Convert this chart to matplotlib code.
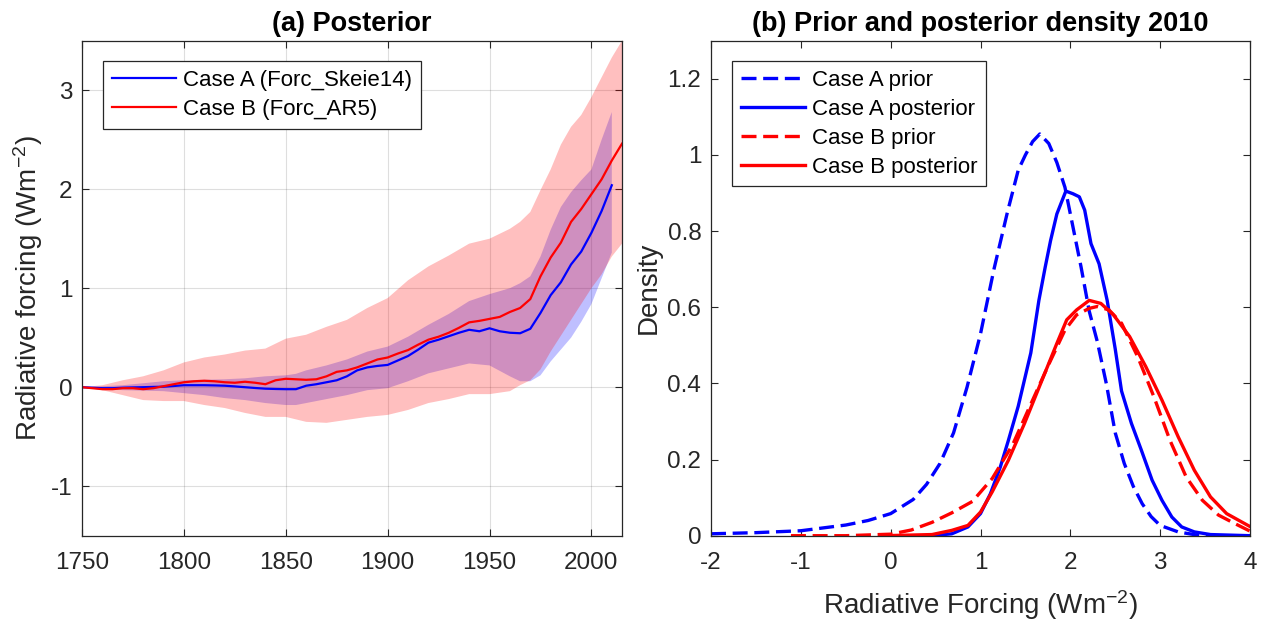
import numpy as np
import matplotlib
matplotlib.use('Agg')
import matplotlib.pyplot as plt
from matplotlib.ticker import FuncFormatter

plt.rcParams['font.family'] = ['Liberation Sans', 'DejaVu Sans']
plt.rcParams['mathtext.fontset'] = 'custom'
plt.rcParams['mathtext.rm'] = 'Liberation Sans'
plt.rcParams['mathtext.it'] = 'Liberation Sans'
plt.rcParams['mathtext.bf'] = 'Liberation Sans:bold'
plt.rcParams['mathtext.default'] = 'regular'
plt.rcParams['axes.unicode_minus'] = False

# ---------------- Panel (a): posterior forcing time series ----------------
years_B = [1750, 1755, 1760, 1765, 1770, 1775, 1780, 1785, 1790, 1795, 1800, 1805, 1810, 1815,
           1820, 1825, 1830, 1835, 1840, 1845, 1850, 1855, 1860, 1865, 1870, 1875, 1880, 1885,
           1890, 1895, 1900, 1905, 1910, 1915, 1920, 1925, 1930, 1935, 1940, 1945, 1950, 1955,
           1960, 1965, 1970, 1975, 1980, 1985, 1990, 1995, 2000, 2005, 2010, 2015]
caseB_median = [0.0, -0.01, -0.02, -0.02, -0.01, -0.01, -0.02, -0.01, 0.01, 0.03, 0.05, 0.06, 0.065, 0.06,
                0.05, 0.045, 0.055, 0.045, 0.03, 0.07, 0.085, 0.08, 0.075, 0.08, 0.11, 0.155, 0.17, 0.20,
                0.24, 0.28, 0.30, 0.34, 0.375, 0.43, 0.48, 0.51, 0.55, 0.60, 0.655, 0.67, 0.69, 0.71,
                0.76, 0.80, 0.89, 1.12, 1.31, 1.46, 1.67, 1.80, 1.95, 2.10, 2.29, 2.46]

years_A = [1750, 1755, 1760, 1765, 1770, 1775, 1780, 1785, 1790, 1795, 1800, 1805, 1810, 1815,
           1820, 1825, 1830, 1835, 1840, 1845, 1850, 1855, 1860, 1865, 1870, 1875, 1880, 1885,
           1890, 1895, 1900, 1905, 1910, 1915, 1920, 1925, 1930, 1935, 1940, 1945, 1950, 1955,
           1960, 1965, 1970, 1975, 1980, 1985, 1990, 1995, 2000, 2005, 2010]
caseA_median = [0.0, -0.005, -0.01, -0.01, -0.005, -0.002, 0.0, 0.003, 0.005, 0.012, 0.02, 0.02, 0.02, 0.018,
                0.015, 0.008, 0.0, -0.008, -0.015, -0.018, -0.02, -0.02, 0.015, 0.03, 0.05, 0.07, 0.11, 0.17,
                0.20, 0.215, 0.225, 0.27, 0.315, 0.38, 0.45, 0.48, 0.515, 0.55, 0.58, 0.565, 0.595, 0.565,
                0.55, 0.545, 0.59, 0.75, 0.93, 1.06, 1.24, 1.37, 1.56, 1.78, 2.04]

band_years_B = [1750, 1760, 1770, 1780, 1790, 1800, 1810, 1820, 1830, 1840, 1850, 1860, 1870, 1880,
                1890, 1900, 1910, 1920, 1930, 1940, 1950, 1960, 1965, 1970, 1975, 1980, 1985, 1990,
                1995, 2000, 2005, 2010, 2015]
caseB_upper = [0.0, 0.02, 0.07, 0.11, 0.17, 0.25, 0.30, 0.33, 0.37, 0.39, 0.49, 0.53, 0.61, 0.68,
               0.80, 0.90, 1.08, 1.22, 1.33, 1.45, 1.50, 1.60, 1.67, 1.77, 1.99, 2.20, 2.45, 2.63,
               2.75, 2.93, 3.13, 3.33, 3.50]
caseB_lower = [0.0, -0.03, -0.08, -0.13, -0.14, -0.14, -0.18, -0.21, -0.26, -0.30, -0.30, -0.35, -0.36, -0.33,
               -0.30, -0.28, -0.23, -0.16, -0.12, -0.07, -0.07, -0.04, 0.02, 0.07, 0.18, 0.36, 0.52, 0.68,
               0.84, 1.00, 1.14, 1.32, 1.45]

band_years_A = [1750, 1760, 1770, 1780, 1790, 1800, 1810, 1820, 1830, 1840, 1850, 1855, 1860, 1870,
                1880, 1890, 1900, 1910, 1920, 1930, 1940, 1950, 1960, 1965, 1970, 1975, 1980, 1985,
                1990, 1995, 2000, 2005, 2010]
caseA_upper = [0.0, 0.01, 0.02, 0.04, 0.06, 0.07, 0.075, 0.08, 0.09, 0.11, 0.12, 0.135, 0.17, 0.22,
               0.28, 0.36, 0.41, 0.51, 0.63, 0.74, 0.87, 0.94, 1.00, 1.05, 1.12, 1.32, 1.59, 1.82,
               1.97, 2.09, 2.20, 2.50, 2.78]
caseA_lower = [0.0, -0.015, -0.03, -0.035, -0.04, -0.06, -0.08, -0.11, -0.13, -0.16, -0.18, -0.18, -0.16, -0.12,
               -0.08, -0.03, -0.01, 0.06, 0.14, 0.19, 0.24, 0.22, 0.11, 0.06, 0.06, 0.12, 0.26, 0.38,
               0.50, 0.66, 0.84, 1.10, 1.36]

legend_a = ['Case A (Forc_Skeie14)', 'Case B (Forc_AR5)']
xticks_a = [1750, 1800, 1850, 1900, 1950, 2000]
yticks_a = [-1, 0, 1, 2, 3]

# ---------------- Panel (b): densities in 2010 ----------------
A_prior_x = [-2.0, -1.5, -1.0, -0.5, -0.25, 0.0, 0.25, 0.4, 0.55, 0.7, 0.85, 1.0, 1.15, 1.3, 1.42, 1.5,
             1.58, 1.66, 1.76, 1.85, 1.94, 2.03, 2.12, 2.21, 2.3, 2.4, 2.5, 2.6, 2.7, 2.8, 2.9, 3.0,
             3.2, 3.4, 3.6]
A_prior_y = [0.005, 0.008, 0.013, 0.028, 0.04, 0.058, 0.095, 0.135, 0.19, 0.27, 0.39, 0.53, 0.70, 0.85, 0.96, 1.0,
             1.035, 1.055, 1.03, 0.98, 0.915, 0.81, 0.705, 0.59, 0.51, 0.40, 0.27, 0.19, 0.13, 0.084, 0.05, 0.027,
             0.01, 0.002, 0.0]

A_post_x = [-0.08, 0.46, 0.68, 0.86, 1.0, 1.11, 1.22, 1.31, 1.42, 1.56, 1.65, 1.72, 1.78, 1.85, 1.95, 2.03,
            2.10, 2.16, 2.23, 2.32, 2.41, 2.50, 2.57, 2.68, 2.79, 2.91, 3.02, 3.13, 3.24, 3.38, 3.56, 4.0]
A_post_y = [0.0, 0.0, 0.005, 0.023, 0.058, 0.11, 0.18, 0.25, 0.34, 0.48, 0.618, 0.705, 0.775, 0.845, 0.905, 0.898,
            0.89, 0.855, 0.767, 0.714, 0.618, 0.49, 0.38, 0.295, 0.225, 0.146, 0.093, 0.049, 0.023, 0.01, 0.003, 0.0]

B_prior_x = [-1.11, -0.5, 0.0, 0.23, 0.46, 0.68, 0.91, 1.13, 1.36, 1.58, 1.76, 1.94, 2.07, 2.21, 2.30, 2.43,
             2.57, 2.75, 2.93, 3.11, 3.29, 3.47, 3.65, 3.83, 4.0]
B_prior_y = [0.0, 0.0, 0.004, 0.015, 0.035, 0.06, 0.09, 0.15, 0.24, 0.356, 0.45, 0.54, 0.58, 0.597, 0.602, 0.593,
             0.558, 0.47, 0.365, 0.25, 0.154, 0.093, 0.054, 0.032, 0.012]

B_post_x = [-0.08, 0.46, 0.68, 0.86, 1.0, 1.13, 1.31, 1.49, 1.67, 1.85, 1.96, 2.07, 2.21, 2.34, 2.48, 2.66,
            2.84, 3.02, 3.20, 3.38, 3.56, 3.74, 4.0]
B_post_y = [0.0, 0.003, 0.014, 0.027, 0.062, 0.115, 0.198, 0.295, 0.40, 0.505, 0.567, 0.593, 0.618, 0.61, 0.58, 0.523,
            0.444, 0.356, 0.26, 0.172, 0.102, 0.058, 0.024]

legend_b = ['Case A prior', 'Case A posterior', 'Case B prior', 'Case B posterior']
xticks_b = [-2, -1, 0, 1, 2, 3, 4]
yticks_b = [0, 0.2, 0.4, 0.6, 0.8, 1.0, 1.2]

# ---------------- Figure ----------------
TXT = '#262626'
W, H = 1262, 625
fig = plt.figure(figsize=(W / 100, H / 100), dpi=100)
axL = fig.add_axes([82 / W, (H - 535.7) / H, 540 / W, 495 / H])
axR = fig.add_axes([711 / W, (H - 535.7) / H, 539 / W, 495 / H])

for ax in (axL, axR):
    for s in ax.spines.values():
        s.set_color(TXT)
        s.set_linewidth(0.9)
    ax.tick_params(direction='in', length=5, width=0.8, top=True, right=True,
                   color=TXT, labelcolor=TXT, labelsize=17.5)
    ax.tick_params(axis='x', pad=12)
    ax.tick_params(axis='y', pad=7)

# Panel (a)
axL.fill_between(band_years_A, caseA_lower, caseA_upper, facecolor='blue', alpha=0.25, linewidth=0)
axL.fill_between(band_years_B, caseB_lower, caseB_upper, facecolor='red', alpha=0.25, linewidth=0)
lA, = axL.plot(years_A, caseA_median, color='blue', lw=1.6)
lB, = axL.plot(years_B, caseB_median, color='red', lw=1.6)
axL.set_xlim(1750, 2015)
axL.set_ylim(-1.5, 3.5)
axL.set_xticks(xticks_a)
axL.set_yticks(yticks_a)
axL.grid(True, color=TXT, alpha=0.15, linewidth=0.8)
axL.set_axisbelow(True)
axL.set_title('(a) Posterior', fontsize=19.5, fontweight='bold', pad=7)
axL.set_ylabel('Radiative forcing (Wm$^{-2}$)', fontsize=20, color=TXT, labelpad=4)
legA = axL.legend([lA, lB], legend_a, loc='upper left', fontsize=16, frameon=True, fancybox=False,
                  framealpha=1, edgecolor=TXT, handlelength=2.9, handletextpad=0.3,
                  labelspacing=0.35, borderpad=0.4, borderaxespad=0.93)
legA.get_frame().set_linewidth(0.9)

# Panel (b)
dash = (4.5, 2.0)
axR.plot(A_prior_x, A_prior_y, color='blue', lw=2.4, dashes=dash, label=legend_b[0])
axR.plot(A_post_x, A_post_y, color='blue', lw=2.4, label=legend_b[1])
axR.plot(B_prior_x, B_prior_y, color='red', lw=2.4, dashes=dash, label=legend_b[2])
axR.plot(B_post_x, B_post_y, color='red', lw=2.4, label=legend_b[3])
axR.set_xlim(-2, 4)
axR.set_ylim(0, 1.3)
axR.set_xticks(xticks_b)
axR.set_yticks(yticks_b)
axR.yaxis.set_major_formatter(FuncFormatter(lambda v, p: f'{v:g}'))
axR.set_title('(b) Prior and posterior density 2010', fontsize=19.5, fontweight='bold', pad=7)
axR.set_ylabel('Density', fontsize=20, color=TXT, labelpad=4)
axR.set_xlabel('Radiative Forcing (Wm$^{-2}$)', fontsize=20, color=TXT, labelpad=10)
legB = axR.legend(loc='upper left', fontsize=16, frameon=True, fancybox=False,
                  framealpha=1, edgecolor=TXT, handlelength=2.9, handletextpad=0.3,
                  labelspacing=0.35, borderpad=0.4, borderaxespad=0.93)
legB.get_frame().set_linewidth(0.9)

fig.savefig('out.png', dpi=100)
